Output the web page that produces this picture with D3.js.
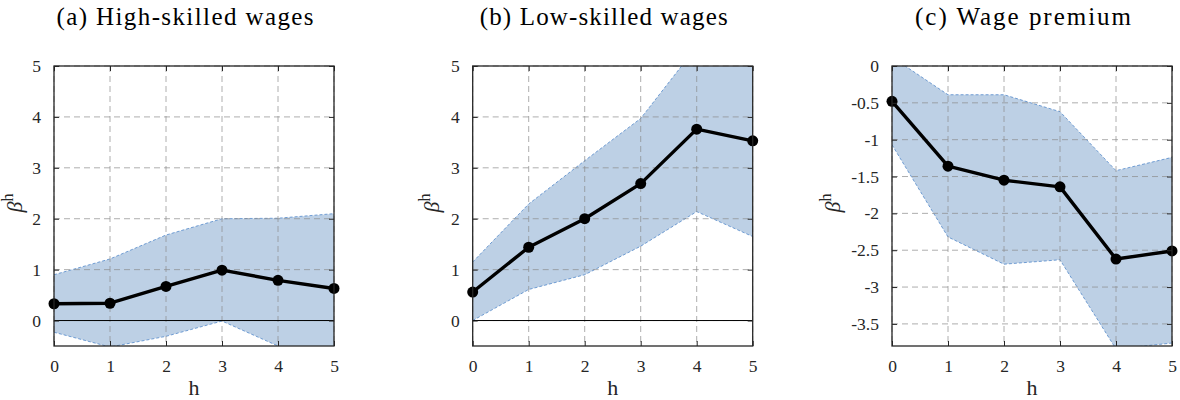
<!DOCTYPE html>
<html>
<head>
<meta charset="utf-8">
<script src="https://cdn.jsdelivr.net/npm/d3@7"></script>
<style>
  html, body { margin: 0; padding: 0; background: #fff; }
  svg { display: block; }
</style>
</head>
<body>
<svg id="chart" width="1180" height="400"></svg>
<script>
const SERIF = "Liberation Serif";

// Horizons
const horizons = [0, 1, 2, 3, 4, 5];

// (a) High-skilled wages
const highEst   = [0.33, 0.34, 0.67, 0.99, 0.79, 0.63];
const highUpper = [0.90, 1.21, 1.68, 2.00, 2.01, 2.10];
const highLower = [-0.23, -0.52, -0.31, -0.01, -0.50, -0.78];

// (b) Low-skilled wages
const lowEst   = [0.56, 1.44, 2.00, 2.69, 3.76, 3.53];
const lowUpper = [1.15, 2.29, 3.14, 3.97, 5.38, 5.60];
const lowLower = [0.00, 0.61, 0.90, 1.46, 2.14, 1.65];

// (c) Wage premium
const premEst   = [-0.48, -1.36, -1.55, -1.64, -2.62, -2.51];
const premUpper = [0.12, -0.39, -0.39, -0.62, -1.42, -1.24];
const premLower = [-1.07, -2.32, -2.69, -2.63, -3.84, -3.76];

const titles = ["(a) High-skilled wages", "(b) Low-skilled wages", "(c) Wage premium"];
const yTicksA = [0, 1, 2, 3, 4, 5];
const yTicksC = [0, -0.5, -1, -1.5, -2, -2.5, -3, -3.5];

const panels = [
  { title: titles[0], titleW: 257, est: highEst, upper: highUpper, lower: highLower, domain: [-0.5, 5], ticks: yTicksA, zero: true, left: 54, labelOff: 32 },
  { title: titles[1], titleW: 248, est: lowEst,  upper: lowUpper,  lower: lowLower,  domain: [-0.5, 5], ticks: yTicksA, zero: true, left: 472.7, labelOff: 34 },
  { title: titles[2], titleW: 216, est: premEst, upper: premUpper, lower: premLower, domain: [-3.8, 0], ticks: yTicksC, zero: false, left: 892, labelOff: 52 }
];

const plotTop = 66, size = 280, tickLen = 5;
const svg = d3.select("#chart");
const defs = svg.append("defs");

panels.forEach((p, i) => {
  const x = d3.scaleLinear().domain([0, 5]).range([p.left, p.left + size]);
  const y = d3.scaleLinear().domain(p.domain).range([plotTop + size, plotTop]);
  const g = svg.append("g");

  defs.append("clipPath").attr("id", "clip" + i)
    .append("rect").attr("x", p.left).attr("y", plotTop).attr("width", size).attr("height", size);

  // Confidence band
  const band = horizons.map((h, k) => ({ h, lo: p.lower[k], hi: p.upper[k] }));
  const plot = g.append("g").attr("clip-path", `url(#clip${i})`);
  plot.append("path").datum(band)
    .attr("d", d3.area().x(d => x(d.h)).y0(d => y(d.lo)).y1(d => y(d.hi)))
    .attr("fill", "#bdd0e5");

  // Grid
  const grid = g.append("g").attr("stroke", "#8c8c8c").attr("stroke-opacity", 0.7)
    .attr("stroke-width", 1).attr("stroke-dasharray", "6,4");
  horizons.forEach(h => grid.append("line").attr("x1", x(h)).attr("x2", x(h)).attr("y1", plotTop).attr("y2", plotTop + size));
  p.ticks.forEach(t => grid.append("line").attr("x1", p.left).attr("x2", p.left + size).attr("y1", y(t)).attr("y2", y(t)));

  // Band edges
  ["upper", "lower"].forEach(key => {
    plot.append("path").datum(horizons.map((h, k) => [h, p[key][k]]))
      .attr("d", d3.line().x(d => x(d[0])).y(d => y(d[1])))
      .attr("fill", "none").attr("stroke", "#3f7bc4").attr("stroke-width", 0.7)
      .attr("stroke-dasharray", "3,2");
  });

  if (p.zero) {
    g.append("line").attr("x1", p.left).attr("x2", p.left + size)
      .attr("y1", y(0)).attr("y2", y(0)).attr("stroke", "#000").attr("stroke-width", 1);
  }

  // Point estimates
  const pts = horizons.map((h, k) => [h, p.est[k]]);
  g.append("path").datum(pts)
    .attr("d", d3.line().x(d => x(d[0])).y(d => y(d[1])))
    .attr("fill", "none").attr("stroke", "#000").attr("stroke-width", 3.4)
    .attr("stroke-linejoin", "round");
  g.selectAll("circle.pt").data(pts).enter().append("circle")
    .attr("cx", d => x(d[0])).attr("cy", d => y(d[1])).attr("r", 5.5).attr("fill", "#000");

  // Box axes with inward ticks
  const yAxisL = d3.axisLeft(y).tickValues(p.ticks).tickSizeInner(-tickLen).tickSizeOuter(0)
    .tickPadding(8 + tickLen).tickFormat(d => String(d));
  const yAxisR = d3.axisRight(y).tickValues(p.ticks).tickSizeInner(-tickLen).tickSizeOuter(0).tickFormat("");
  const xAxisB = d3.axisBottom(x).tickValues(horizons).tickSizeInner(-tickLen).tickSizeOuter(0)
    .tickPadding(9 + tickLen).tickFormat(d => String(d));
  const xAxisT = d3.axisTop(x).tickValues(horizons).tickSizeInner(-tickLen).tickSizeOuter(0).tickFormat("");

  const axes = [
    g.append("g").attr("transform", `translate(${p.left},0)`).call(yAxisL),
    g.append("g").attr("transform", `translate(${p.left + size},0)`).call(yAxisR),
    g.append("g").attr("transform", `translate(0,${plotTop + size})`).call(xAxisB),
    g.append("g").attr("transform", `translate(0,${plotTop})`).call(xAxisT)
  ];
  axes.forEach(a => {
    a.select(".domain").remove();
    a.attr("font-family", SERIF).attr("font-size", 17.5);
    a.selectAll("line").attr("stroke", "#262626").attr("stroke-width", 1);
    a.selectAll("text").attr("font-family", SERIF).attr("font-size", 17.5).attr("fill", "#262626");
  });

  g.append("rect").attr("x", p.left).attr("y", plotTop).attr("width", size).attr("height", size)
    .attr("fill", "none").attr("stroke", "#262626").attr("stroke-width", 1.3);

  // Labels
  g.append("text").attr("x", p.left + size / 2 - 9).attr("y", 25)
    .attr("text-anchor", "middle").attr("font-family", SERIF).attr("font-size", 25)
    .attr("textLength", p.titleW).attr("lengthAdjust", "spacing")
    .attr("fill", "#000").text(p.title);
  g.append("text").attr("x", p.left + size / 2).attr("y", 395)
    .attr("text-anchor", "middle").attr("font-family", SERIF).attr("font-size", 22)
    .attr("fill", "#262626").text("h");

  const yl = g.append("text")
    .attr("transform", `translate(${p.left - p.labelOff},${plotTop + size / 2 - 3}) rotate(-90)`)
    .attr("text-anchor", "middle").attr("font-family", SERIF).attr("font-size", 22)
    .attr("fill", "#262626");
  yl.append("tspan").attr("font-style", "italic").text("β");
  yl.append("tspan").attr("dy", -9).attr("font-size", 16).text("h");
});
</script>
</body>
</html>
